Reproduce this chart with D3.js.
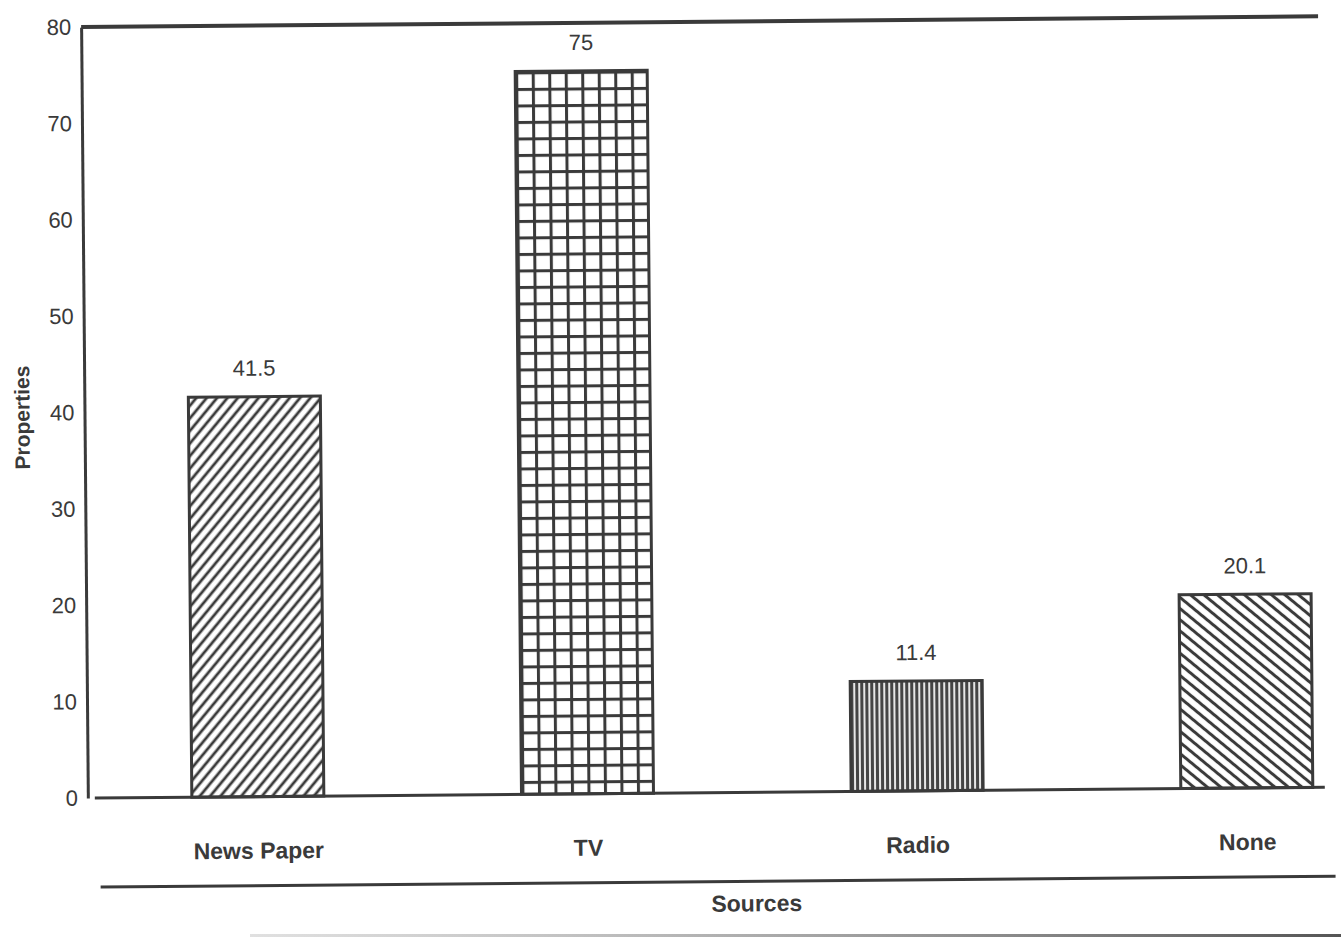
<!DOCTYPE html>
<html>
<head>
<meta charset="utf-8">
<script src="https://cdn.jsdelivr.net/npm/d3@7"></script>
<style>
  html, body { margin: 0; padding: 0; background: #fff; }
  svg { display: block; }
  text { font-family: "Liberation Sans", Arial, Helvetica, sans-serif; fill: #3a3a3a; }
</style>
</head>
<body>
<svg id="chart" width="1341" height="937"></svg>
<script>
// Media sources used by the surveyed properties
const categories = ["News Paper", "TV", "Radio", "None"];
const values = [41.5, 75, 11.4, 20.1];
const valueLabels = ["41.5", "75", "11.4", "20.1"];
const yTicks = [0, 10, 20, 30, 40, 50, 60, 70, 80];
const fills = ["diagUp", "grid", "vert", "diagDown"];

const ink = "#3a3a3a";
const svg = d3.select("#chart");
const defs = svg.append("defs");

// Whole sheet is printed slightly tilted
const g = svg.append("g").attr("transform", "rotate(-0.5, 670, 470)");

const y = d3.scaleLinear().domain([0, 80]).range([793, 22]);
const x = d3.scalePoint().domain(categories).range([255, 1244]);
const barW = 132;

// Hatch patterns, one per bar so each lines up with its own bar
function makePattern(kind, id, bx, by) {
  if (kind === "diagUp") {
    const p = defs.append("pattern").attr("id", id).attr("patternUnits", "userSpaceOnUse")
      .attr("width", 8).attr("height", 8).attr("patternTransform", "rotate(40)");
    p.append("rect").attr("width", 8).attr("height", 8).attr("fill", "#fff");
    p.append("line").attr("x1", 4).attr("x2", 4).attr("y1", -1).attr("y2", 9)
      .attr("stroke", ink).attr("stroke-width", 2.8);
  } else if (kind === "diagDown") {
    const p = defs.append("pattern").attr("id", id).attr("patternUnits", "userSpaceOnUse")
      .attr("width", 8.6).attr("height", 8.6).attr("patternTransform", "rotate(-50)");
    p.append("rect").attr("width", 8.6).attr("height", 8.6).attr("fill", "#fff");
    p.append("line").attr("x1", 4.3).attr("x2", 4.3).attr("y1", -1).attr("y2", 9.6)
      .attr("stroke", ink).attr("stroke-width", 3);
  } else if (kind === "grid") {
    const s = 16.5;
    const p = defs.append("pattern").attr("id", id).attr("patternUnits", "userSpaceOnUse")
      .attr("x", bx).attr("y", by).attr("width", s).attr("height", s);
    p.append("rect").attr("width", s).attr("height", s).attr("fill", "#fff");
    p.append("rect").attr("x", 0).attr("y", 0).attr("width", 3).attr("height", s).attr("fill", ink);
    p.append("rect").attr("x", 0).attr("y", 0).attr("width", s).attr("height", 3).attr("fill", ink);
  } else if (kind === "vert") {
    const s = 5;
    const p = defs.append("pattern").attr("id", id).attr("patternUnits", "userSpaceOnUse")
      .attr("x", bx).attr("y", by).attr("width", s).attr("height", 10);
    p.append("rect").attr("width", s).attr("height", 10).attr("fill", "#e6e6e6");
    p.append("rect").attr("x", 0).attr("width", 3).attr("height", 10).attr("fill", "#444");
  }
}

// Top frame line
g.append("line").attr("x1", 85).attr("x2", 1322).attr("y1", y(80)).attr("y2", y(80))
  .attr("stroke", ink).attr("stroke-width", 4);

// Y axis
const yAxis = d3.axisLeft(y).tickValues(yTicks).tickSize(0).tickPadding(10);
const yg = g.append("g").attr("transform", "translate(85,0)").call(yAxis);
yg.select(".domain").attr("stroke", ink).attr("stroke-width", 3);
yg.selectAll(".tick text").attr("font-size", 22).attr("fill", "#4a4a4a")
  .style("font-family", "'Liberation Sans', Arial, sans-serif");

// Bars
categories.forEach((c, i) => {
  const bx = x(c) - barW / 2, by = y(values[i]);
  makePattern(fills[i], "pat" + i, bx, by);
});

g.selectAll("rect.bar").data(categories).join("rect")
  .attr("class", "bar")
  .attr("x", d => x(d) - barW / 2)
  .attr("y", (d, i) => y(values[i]))
  .attr("width", barW)
  .attr("height", (d, i) => y(0) - y(values[i]))
  .attr("fill", (d, i) => `url(#pat${i})`)
  .attr("stroke", ink).attr("stroke-width", 3);

// Value labels
g.selectAll("text.val").data(categories).join("text")
  .attr("class", "val")
  .attr("x", d => x(d))
  .attr("y", (d, i) => y(values[i]) - 21)
  .attr("text-anchor", "middle")
  .attr("font-size", 22)
  .text((d, i) => valueLabels[i]);

// X baseline
g.append("line").attr("x1", 92).attr("x2", 1322).attr("y1", y(0)).attr("y2", y(0))
  .attr("stroke", ink).attr("stroke-width", 3);

// Category labels
const xAxis = d3.axisBottom(x).tickSize(0).tickPadding(0);
const xg = g.append("g").attr("transform", `translate(0,${y(0) + 62})`).call(xAxis);
xg.select(".domain").remove();
xg.selectAll(".tick text").attr("font-size", 23).attr("font-weight", "bold")
  .attr("fill", "#3a3a3a").attr("dy", 0)
  .style("font-family", "'Liberation Sans', Arial, sans-serif");

// Rule between categories and axis title
g.append("line").attr("x1", 97).attr("x2", 1332).attr("y1", 882).attr("y2", 882)
  .attr("stroke", ink).attr("stroke-width", 3);

// Axis titles
g.append("text").attr("x", 753).attr("y", 912).attr("text-anchor", "middle")
  .attr("font-size", 23).attr("font-weight", "bold").text("Sources");

g.append("text").attr("transform", "translate(30,412) rotate(-90)")
  .attr("text-anchor", "middle").attr("font-size", 21).attr("font-weight", "bold")
  .text("Properties");

// Bottom page edge rule, fading in from the left
const edge = defs.append("linearGradient").attr("id", "edgeFade");
edge.append("stop").attr("offset", "0%").attr("stop-color", "#999").attr("stop-opacity", 0.3);
edge.append("stop").attr("offset", "100%").attr("stop-color", "#555").attr("stop-opacity", 1);
svg.append("rect").attr("x", 250).attr("y", 934).attr("width", 1091).attr("height", 3)
  .attr("fill", "url(#edgeFade)");
</script>
</body>
</html>
